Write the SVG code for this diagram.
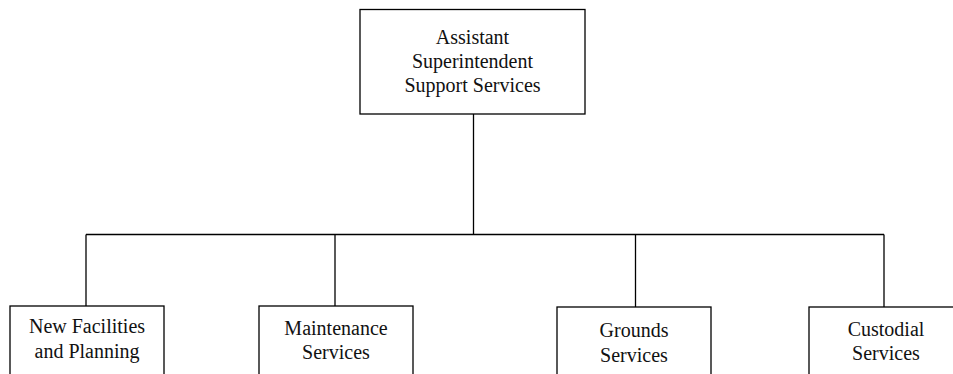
<svg xmlns="http://www.w3.org/2000/svg" width="953" height="374" viewBox="0 0 953 374">
  <style>
    .box { fill: #ffffff; stroke: #000000; stroke-width: 1.3; }
    .conn { fill: none; stroke: #000000; stroke-width: 1.3; }
    .lbl { font-family: "Liberation Serif", "Times New Roman", serif; font-size: 20px; fill: #111111; text-anchor: middle; }
  </style>
  <rect width="953" height="374" fill="#ffffff"/>

  <!-- connectors: trunk, bus bar and drops -->
  <g id="connectors">
    <line class="conn" x1="473.5" y1="114" x2="473.5" y2="234.5"/>
    <line class="conn" x1="86" y1="234.5" x2="884" y2="234.5"/>
    <line class="conn" x1="86" y1="234.5" x2="86" y2="306"/>
    <line class="conn" x1="335" y1="234.5" x2="335" y2="306"/>
    <line class="conn" x1="635.5" y1="234.5" x2="635.5" y2="307"/>
    <line class="conn" x1="884" y1="234.5" x2="884" y2="307"/>
  </g>

  <g id="node-assistant-superintendent">
    <rect class="box" x="360" y="9.5" width="225" height="104.5"/>
    <text class="lbl" x="472.5" y="44">Assistant</text>
    <text class="lbl" x="472.5" y="68">Superintendent</text>
    <text class="lbl" x="472.5" y="92">Support Services</text>
  </g>

  <g id="node-new-facilities">
    <rect class="box" x="10" y="306" width="154" height="80"/>
    <text class="lbl" x="87" y="333">New Facilities</text>
    <text class="lbl" x="87" y="358">and Planning</text>
  </g>

  <g id="node-maintenance">
    <rect class="box" x="259" y="306" width="154" height="80"/>
    <text class="lbl" x="336" y="335">Maintenance</text>
    <text class="lbl" x="336" y="359">Services</text>
  </g>

  <g id="node-grounds">
    <rect class="box" x="557" y="307" width="154" height="80"/>
    <text class="lbl" x="634" y="337">Grounds</text>
    <text class="lbl" x="634" y="362">Services</text>
  </g>

  <g id="node-custodial">
    <rect class="box" x="809" y="307" width="154" height="80"/>
    <text class="lbl" x="886" y="336">Custodial</text>
    <text class="lbl" x="886" y="360">Services</text>
  </g>
</svg>
